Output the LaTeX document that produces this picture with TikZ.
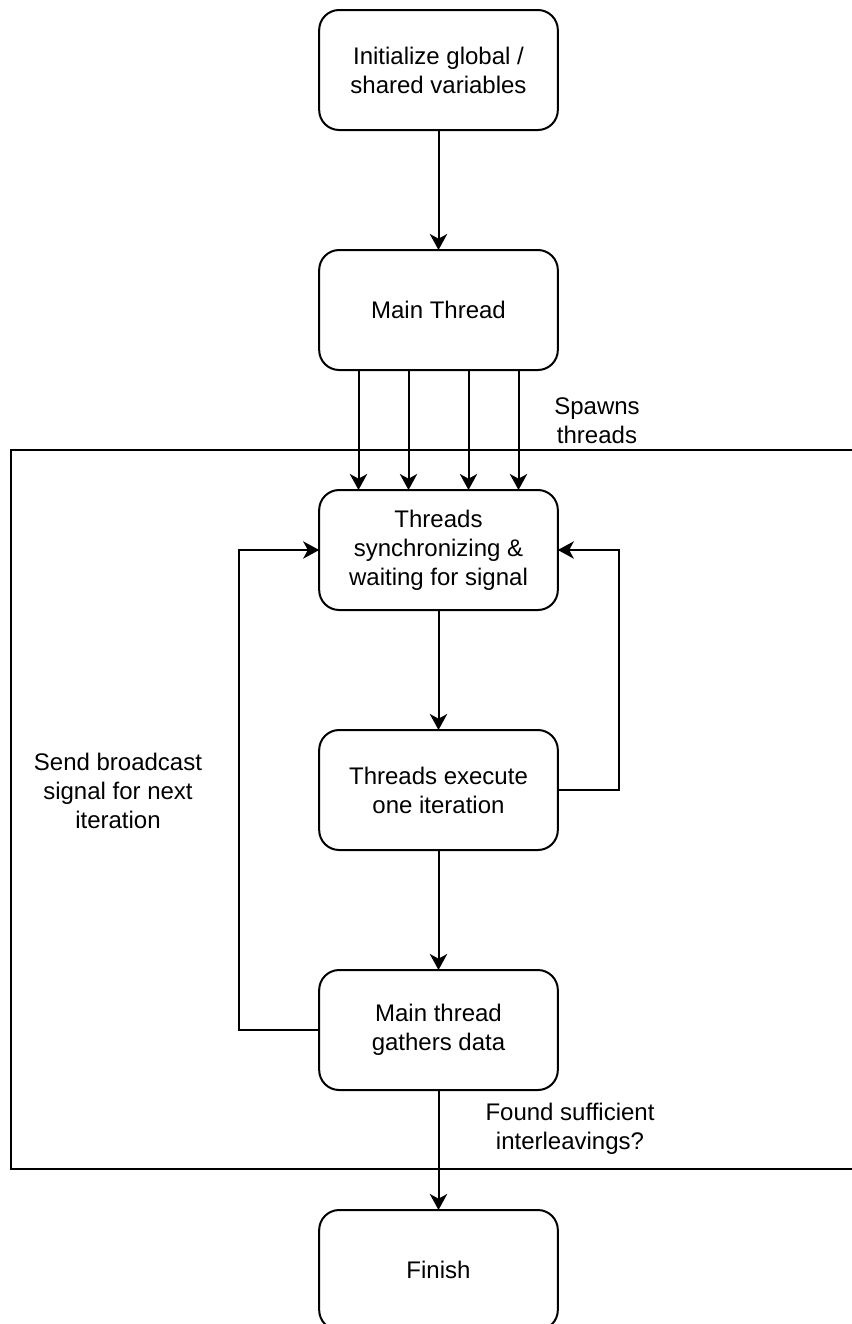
\documentclass[tikz,border=0pt]{standalone}
\usepackage{fontspec}
\setmainfont{Liberation Sans}
\usetikzlibrary{arrows.meta,positioning,calc}

\begin{document}
\begin{tikzpicture}[x=0.75pt, y=-0.75pt, node distance=90pt,
    every node/.style={align=center, font=\fontsize{18pt}{21.75pt}\selectfont},
    stepbox/.style={draw, line width=1.5pt, rounded corners=15pt, outer sep=0pt, minimum width=179pt, minimum height=90pt},
    arr/.style={line width=1.5pt, -{Stealth[length=12pt,width=13pt,inset=3.5pt]}}]
\useasboundingbox (0,0) rectangle (851,1324);

\node[stepbox] (init) at (438.5,70) {Initialize global /\\shared variables};
\node[stepbox,below=of init] (main) {Main Thread};
\node[stepbox,below=of main] (sync) {Threads\\synchronizing \&\\waiting for signal};
\node[stepbox,below=of sync] (exec) {Threads execute\\one iteration};
\node[stepbox,below=of exec] (gather) {Main thread\\gathers data};
\node[stepbox,below=of gather] (finish) {Finish};

% loop frame
\draw[line width=1.5pt] (852,450) -| (11,1169) -- (852,1169);

\node (spawn) at (597,421) {Spawns\\threads};
\node (bcast) at (118,791) {Send broadcast\\signal for next\\iteration};
\node (found) at (570,1129) {Found sufficient\\interleavings?};

\draw[arr] (init) -- (main);
\foreach \dx in {-80,-30,30,80}
  \draw[arr] ([xshift=\dx*0.75pt]main.south) -- ([xshift=\dx*0.75pt]sync.north);
\draw[arr] (sync) -- (exec);
\draw[arr] (exec) -- (gather);
\draw[arr] (gather) -- (finish);
\draw[arr] (gather.west) -- ++(-80,0) |- (sync.west);
\draw[arr] (exec.east) -- ++(61,0) |- (sync.east);
\end{tikzpicture}
\end{document}
